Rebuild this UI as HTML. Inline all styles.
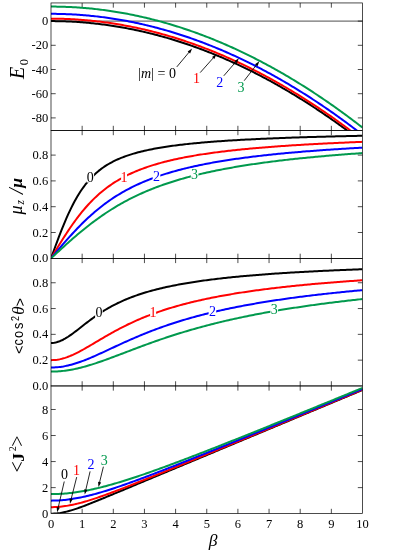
<!DOCTYPE html>
<html><head><meta charset="utf-8"><title>chart</title>
<style>html,body{margin:0;padding:0;background:#fff;}svg{display:block;will-change:transform;opacity:0.999;}
text{font-family:"Liberation Serif",serif;}</style></head>
<body>
<svg width="393" height="554" viewBox="0 0 393 554">
<rect x="0" y="0" width="393" height="554" fill="#ffffff"/>
<defs>
<clipPath id="c1"><rect x="51.00" y="2.95" width="311.50" height="127.55"/></clipPath>
<clipPath id="c2"><rect x="51.00" y="130.50" width="311.50" height="127.90"/></clipPath>
<clipPath id="c3"><rect x="51.00" y="258.40" width="311.50" height="127.55"/></clipPath>
<clipPath id="c4"><rect x="51.00" y="385.95" width="311.50" height="127.55"/></clipPath>
</defs>
<g stroke="#000" stroke-width="0.70" fill="none">
<line x1="51.00" y1="21.10" x2="362.50" y2="21.10"/>
</g>
<g stroke="#000" stroke-width="0.70" fill="none">
<line x1="82.15" y1="2.95" x2="82.15" y2="7.65"/>
<line x1="82.15" y1="125.80" x2="82.15" y2="135.20"/>
<line x1="82.15" y1="253.70" x2="82.15" y2="263.10"/>
<line x1="82.15" y1="381.25" x2="82.15" y2="390.65"/>
<line x1="82.15" y1="508.80" x2="82.15" y2="513.50"/>
<line x1="113.30" y1="2.95" x2="113.30" y2="7.65"/>
<line x1="113.30" y1="125.80" x2="113.30" y2="135.20"/>
<line x1="113.30" y1="253.70" x2="113.30" y2="263.10"/>
<line x1="113.30" y1="381.25" x2="113.30" y2="390.65"/>
<line x1="113.30" y1="508.80" x2="113.30" y2="513.50"/>
<line x1="144.45" y1="2.95" x2="144.45" y2="7.65"/>
<line x1="144.45" y1="125.80" x2="144.45" y2="135.20"/>
<line x1="144.45" y1="253.70" x2="144.45" y2="263.10"/>
<line x1="144.45" y1="381.25" x2="144.45" y2="390.65"/>
<line x1="144.45" y1="508.80" x2="144.45" y2="513.50"/>
<line x1="175.60" y1="2.95" x2="175.60" y2="7.65"/>
<line x1="175.60" y1="125.80" x2="175.60" y2="135.20"/>
<line x1="175.60" y1="253.70" x2="175.60" y2="263.10"/>
<line x1="175.60" y1="381.25" x2="175.60" y2="390.65"/>
<line x1="175.60" y1="508.80" x2="175.60" y2="513.50"/>
<line x1="206.75" y1="2.95" x2="206.75" y2="7.65"/>
<line x1="206.75" y1="125.80" x2="206.75" y2="135.20"/>
<line x1="206.75" y1="253.70" x2="206.75" y2="263.10"/>
<line x1="206.75" y1="381.25" x2="206.75" y2="390.65"/>
<line x1="206.75" y1="508.80" x2="206.75" y2="513.50"/>
<line x1="237.90" y1="2.95" x2="237.90" y2="7.65"/>
<line x1="237.90" y1="125.80" x2="237.90" y2="135.20"/>
<line x1="237.90" y1="253.70" x2="237.90" y2="263.10"/>
<line x1="237.90" y1="381.25" x2="237.90" y2="390.65"/>
<line x1="237.90" y1="508.80" x2="237.90" y2="513.50"/>
<line x1="269.05" y1="2.95" x2="269.05" y2="7.65"/>
<line x1="269.05" y1="125.80" x2="269.05" y2="135.20"/>
<line x1="269.05" y1="253.70" x2="269.05" y2="263.10"/>
<line x1="269.05" y1="381.25" x2="269.05" y2="390.65"/>
<line x1="269.05" y1="508.80" x2="269.05" y2="513.50"/>
<line x1="300.20" y1="2.95" x2="300.20" y2="7.65"/>
<line x1="300.20" y1="125.80" x2="300.20" y2="135.20"/>
<line x1="300.20" y1="253.70" x2="300.20" y2="263.10"/>
<line x1="300.20" y1="381.25" x2="300.20" y2="390.65"/>
<line x1="300.20" y1="508.80" x2="300.20" y2="513.50"/>
<line x1="331.35" y1="2.95" x2="331.35" y2="7.65"/>
<line x1="331.35" y1="125.80" x2="331.35" y2="135.20"/>
<line x1="331.35" y1="253.70" x2="331.35" y2="263.10"/>
<line x1="331.35" y1="381.25" x2="331.35" y2="390.65"/>
<line x1="331.35" y1="508.80" x2="331.35" y2="513.50"/>
<line x1="51.00" y1="21.10" x2="55.70" y2="21.10"/>
<line x1="357.80" y1="21.10" x2="362.50" y2="21.10"/>
<line x1="51.00" y1="45.30" x2="55.70" y2="45.30"/>
<line x1="357.80" y1="45.30" x2="362.50" y2="45.30"/>
<line x1="51.00" y1="69.50" x2="55.70" y2="69.50"/>
<line x1="357.80" y1="69.50" x2="362.50" y2="69.50"/>
<line x1="51.00" y1="93.70" x2="55.70" y2="93.70"/>
<line x1="357.80" y1="93.70" x2="362.50" y2="93.70"/>
<line x1="51.00" y1="117.90" x2="55.70" y2="117.90"/>
<line x1="357.80" y1="117.90" x2="362.50" y2="117.90"/>
<line x1="51.00" y1="232.50" x2="55.70" y2="232.50"/>
<line x1="357.80" y1="232.50" x2="362.50" y2="232.50"/>
<line x1="51.00" y1="206.70" x2="55.70" y2="206.70"/>
<line x1="357.80" y1="206.70" x2="362.50" y2="206.70"/>
<line x1="51.00" y1="180.90" x2="55.70" y2="180.90"/>
<line x1="357.80" y1="180.90" x2="362.50" y2="180.90"/>
<line x1="51.00" y1="155.10" x2="55.70" y2="155.10"/>
<line x1="357.80" y1="155.10" x2="362.50" y2="155.10"/>
<line x1="51.00" y1="360.15" x2="55.70" y2="360.15"/>
<line x1="357.80" y1="360.15" x2="362.50" y2="360.15"/>
<line x1="51.00" y1="334.35" x2="55.70" y2="334.35"/>
<line x1="357.80" y1="334.35" x2="362.50" y2="334.35"/>
<line x1="51.00" y1="308.55" x2="55.70" y2="308.55"/>
<line x1="357.80" y1="308.55" x2="362.50" y2="308.55"/>
<line x1="51.00" y1="282.75" x2="55.70" y2="282.75"/>
<line x1="357.80" y1="282.75" x2="362.50" y2="282.75"/>
<line x1="51.00" y1="487.61" x2="55.70" y2="487.61"/>
<line x1="357.80" y1="487.61" x2="362.50" y2="487.61"/>
<line x1="51.00" y1="461.57" x2="55.70" y2="461.57"/>
<line x1="357.80" y1="461.57" x2="362.50" y2="461.57"/>
<line x1="51.00" y1="435.53" x2="55.70" y2="435.53"/>
<line x1="357.80" y1="435.53" x2="362.50" y2="435.53"/>
<line x1="51.00" y1="409.49" x2="55.70" y2="409.49"/>
<line x1="357.80" y1="409.49" x2="362.50" y2="409.49"/>
</g>
<g clip-path="url(#c1)" fill="none" stroke-width="2" stroke-linejoin="round">
<path d="M51.00,21.10 L52.56,21.10 L54.12,21.11 L55.67,21.13 L57.23,21.15 L58.79,21.18 L60.34,21.21 L61.90,21.25 L63.46,21.29 L65.02,21.35 L66.58,21.40 L68.13,21.47 L69.69,21.54 L71.25,21.61 L72.81,21.69 L74.36,21.78 L75.92,21.87 L77.48,21.97 L79.03,22.08 L80.59,22.19 L82.15,22.31 L83.71,22.43 L85.27,22.56 L86.82,22.70 L88.38,22.84 L89.94,22.99 L91.50,23.14 L93.05,23.31 L94.61,23.47 L96.17,23.64 L97.72,23.82 L99.28,24.01 L100.84,24.20 L102.40,24.39 L103.96,24.60 L105.51,24.81 L107.07,25.02 L108.63,25.24 L110.19,25.47 L111.74,25.70 L113.30,25.94 L114.86,26.19 L116.42,26.44 L117.97,26.69 L119.53,26.96 L121.09,27.23 L122.65,27.50 L124.20,27.78 L125.76,28.07 L127.32,28.36 L128.88,28.66 L130.43,28.97 L131.99,29.28 L133.55,29.60 L135.11,29.92 L136.66,30.25 L138.22,30.59 L139.78,30.93 L141.34,31.28 L142.89,31.63 L144.45,31.99 L146.01,32.36 L147.56,32.73 L149.12,33.11 L150.68,33.49 L152.24,33.88 L153.80,34.28 L155.35,34.68 L156.91,35.09 L158.47,35.50 L160.02,35.92 L161.58,36.35 L163.14,36.78 L164.70,37.22 L166.25,37.66 L167.81,38.12 L169.37,38.57 L170.93,39.04 L172.49,39.50 L174.04,39.98 L175.60,40.46 L177.16,40.95 L178.72,41.44 L180.27,41.94 L181.83,42.44 L183.39,42.96 L184.94,43.47 L186.50,44.00 L188.06,44.53 L189.62,45.06 L191.17,45.60 L192.73,46.15 L194.29,46.70 L195.85,47.26 L197.41,47.83 L198.96,48.40 L200.52,48.98 L202.08,49.56 L203.63,50.15 L205.19,50.75 L206.75,51.35 L208.31,51.96 L209.87,52.57 L211.42,53.19 L212.98,53.82 L214.54,54.45 L216.10,55.09 L217.65,55.73 L219.21,56.38 L220.77,57.04 L222.32,57.70 L223.88,58.37 L225.44,59.05 L227.00,59.73 L228.56,60.41 L230.11,61.11 L231.67,61.80 L233.23,62.51 L234.78,63.22 L236.34,63.94 L237.90,64.66 L239.46,65.39 L241.02,66.12 L242.57,66.87 L244.13,67.61 L245.69,68.37 L247.25,69.12 L248.80,69.89 L250.36,70.66 L251.92,71.44 L253.47,72.22 L255.03,73.01 L256.59,73.81 L258.15,74.61 L259.70,75.42 L261.26,76.23 L262.82,77.05 L264.38,77.88 L265.94,78.71 L267.49,79.55 L269.05,80.39 L270.61,81.24 L272.17,82.10 L273.72,82.96 L275.28,83.83 L276.84,84.70 L278.39,85.58 L279.95,86.47 L281.51,87.36 L283.07,88.26 L284.62,89.16 L286.18,90.07 L287.74,90.99 L289.30,91.91 L290.86,92.84 L292.41,93.78 L293.97,94.72 L295.53,95.66 L297.09,96.62 L298.64,97.58 L300.20,98.54 L301.76,99.51 L303.31,100.49 L304.87,101.47 L306.43,102.46 L307.99,103.46 L309.55,104.46 L311.10,105.46 L312.66,106.48 L314.22,107.50 L315.77,108.52 L317.33,109.55 L318.89,110.59 L320.45,111.64 L322.00,112.68 L323.56,113.74 L325.12,114.80 L326.68,115.87 L328.24,116.94 L329.79,118.02 L331.35,119.11 L332.91,120.20 L334.46,121.30 L336.02,122.40 L337.58,123.51 L339.14,124.63 L340.69,125.75 L342.25,126.88 L343.81,128.02 L345.37,129.16 L346.93,130.30 L348.48,131.46 L350.04,132.61 L351.60,133.78 L353.16,134.95 L354.71,136.13 L356.27,137.31 L357.83,138.50 L359.38,139.69 L360.94,140.89 L362.50,142.10" stroke="#000000"/>
<path d="M51.00,18.68 L52.56,18.68 L54.12,18.69 L55.67,18.71 L57.23,18.73 L58.79,18.76 L60.34,18.79 L61.90,18.83 L63.46,18.87 L65.02,18.93 L66.58,18.98 L68.13,19.05 L69.69,19.12 L71.25,19.19 L72.81,19.27 L74.36,19.36 L75.92,19.45 L77.48,19.55 L79.03,19.66 L80.59,19.77 L82.15,19.89 L83.71,20.01 L85.27,20.14 L86.82,20.28 L88.38,20.42 L89.94,20.57 L91.50,20.72 L93.05,20.89 L94.61,21.05 L96.17,21.22 L97.72,21.40 L99.28,21.59 L100.84,21.78 L102.40,21.97 L103.96,22.18 L105.51,22.39 L107.07,22.60 L108.63,22.82 L110.19,23.05 L111.74,23.28 L113.30,23.52 L114.86,23.77 L116.42,24.02 L117.97,24.27 L119.53,24.54 L121.09,24.81 L122.65,25.08 L124.20,25.36 L125.76,25.65 L127.32,25.94 L128.88,26.24 L130.43,26.55 L131.99,26.86 L133.55,27.18 L135.11,27.50 L136.66,27.83 L138.22,28.17 L139.78,28.51 L141.34,28.86 L142.89,29.21 L144.45,29.57 L146.01,29.94 L147.56,30.31 L149.12,30.69 L150.68,31.07 L152.24,31.46 L153.80,31.86 L155.35,32.26 L156.91,32.67 L158.47,33.08 L160.02,33.50 L161.58,33.93 L163.14,34.36 L164.70,34.80 L166.25,35.24 L167.81,35.70 L169.37,36.15 L170.93,36.62 L172.49,37.08 L174.04,37.56 L175.60,38.04 L177.16,38.53 L178.72,39.02 L180.27,39.52 L181.83,40.02 L183.39,40.54 L184.94,41.05 L186.50,41.58 L188.06,42.11 L189.62,42.64 L191.17,43.18 L192.73,43.73 L194.29,44.28 L195.85,44.84 L197.41,45.41 L198.96,45.98 L200.52,46.56 L202.08,47.14 L203.63,47.73 L205.19,48.33 L206.75,48.93 L208.31,49.54 L209.87,50.15 L211.42,50.77 L212.98,51.40 L214.54,52.03 L216.10,52.67 L217.65,53.31 L219.21,53.96 L220.77,54.62 L222.32,55.28 L223.88,55.95 L225.44,56.63 L227.00,57.31 L228.56,57.99 L230.11,58.69 L231.67,59.38 L233.23,60.09 L234.78,60.80 L236.34,61.52 L237.90,62.24 L239.46,62.97 L241.02,63.70 L242.57,64.45 L244.13,65.19 L245.69,65.95 L247.25,66.70 L248.80,67.47 L250.36,68.24 L251.92,69.02 L253.47,69.80 L255.03,70.59 L256.59,71.39 L258.15,72.19 L259.70,73.00 L261.26,73.81 L262.82,74.63 L264.38,75.46 L265.94,76.29 L267.49,77.13 L269.05,77.97 L270.61,78.82 L272.17,79.68 L273.72,80.54 L275.28,81.41 L276.84,82.28 L278.39,83.16 L279.95,84.05 L281.51,84.94 L283.07,85.84 L284.62,86.74 L286.18,87.65 L287.74,88.57 L289.30,89.49 L290.86,90.42 L292.41,91.36 L293.97,92.30 L295.53,93.24 L297.09,94.20 L298.64,95.16 L300.20,96.12 L301.76,97.09 L303.31,98.07 L304.87,99.05 L306.43,100.04 L307.99,101.04 L309.55,102.04 L311.10,103.04 L312.66,104.06 L314.22,105.08 L315.77,106.10 L317.33,107.13 L318.89,108.17 L320.45,109.22 L322.00,110.26 L323.56,111.32 L325.12,112.38 L326.68,113.45 L328.24,114.52 L329.79,115.60 L331.35,116.69 L332.91,117.78 L334.46,118.88 L336.02,119.98 L337.58,121.09 L339.14,122.21 L340.69,123.33 L342.25,124.46 L343.81,125.60 L345.37,126.74 L346.93,127.88 L348.48,129.04 L350.04,130.19 L351.60,131.36 L353.16,132.53 L354.71,133.71 L356.27,134.89 L357.83,136.08 L359.38,137.27 L360.94,138.47 L362.50,139.68" stroke="#ff0000"/>
<path d="M51.00,13.84 L52.56,13.84 L54.12,13.85 L55.67,13.87 L57.23,13.89 L58.79,13.92 L60.34,13.95 L61.90,13.99 L63.46,14.03 L65.02,14.09 L66.58,14.14 L68.13,14.21 L69.69,14.28 L71.25,14.35 L72.81,14.43 L74.36,14.52 L75.92,14.61 L77.48,14.71 L79.03,14.82 L80.59,14.93 L82.15,15.05 L83.71,15.17 L85.27,15.30 L86.82,15.44 L88.38,15.58 L89.94,15.73 L91.50,15.88 L93.05,16.05 L94.61,16.21 L96.17,16.38 L97.72,16.56 L99.28,16.75 L100.84,16.94 L102.40,17.13 L103.96,17.34 L105.51,17.55 L107.07,17.76 L108.63,17.98 L110.19,18.21 L111.74,18.44 L113.30,18.68 L114.86,18.93 L116.42,19.18 L117.97,19.43 L119.53,19.70 L121.09,19.97 L122.65,20.24 L124.20,20.52 L125.76,20.81 L127.32,21.10 L128.88,21.40 L130.43,21.71 L131.99,22.02 L133.55,22.34 L135.11,22.66 L136.66,22.99 L138.22,23.33 L139.78,23.67 L141.34,24.02 L142.89,24.37 L144.45,24.73 L146.01,25.10 L147.56,25.47 L149.12,25.85 L150.68,26.23 L152.24,26.62 L153.80,27.02 L155.35,27.42 L156.91,27.83 L158.47,28.24 L160.02,28.66 L161.58,29.09 L163.14,29.52 L164.70,29.96 L166.25,30.40 L167.81,30.86 L169.37,31.31 L170.93,31.78 L172.49,32.24 L174.04,32.72 L175.60,33.20 L177.16,33.69 L178.72,34.18 L180.27,34.68 L181.83,35.18 L183.39,35.70 L184.94,36.21 L186.50,36.74 L188.06,37.27 L189.62,37.80 L191.17,38.34 L192.73,38.89 L194.29,39.44 L195.85,40.00 L197.41,40.57 L198.96,41.14 L200.52,41.72 L202.08,42.30 L203.63,42.89 L205.19,43.49 L206.75,44.09 L208.31,44.70 L209.87,45.31 L211.42,45.93 L212.98,46.56 L214.54,47.19 L216.10,47.83 L217.65,48.47 L219.21,49.12 L220.77,49.78 L222.32,50.44 L223.88,51.11 L225.44,51.79 L227.00,52.47 L228.56,53.15 L230.11,53.85 L231.67,54.54 L233.23,55.25 L234.78,55.96 L236.34,56.68 L237.90,57.40 L239.46,58.13 L241.02,58.86 L242.57,59.61 L244.13,60.35 L245.69,61.11 L247.25,61.86 L248.80,62.63 L250.36,63.40 L251.92,64.18 L253.47,64.96 L255.03,65.75 L256.59,66.55 L258.15,67.35 L259.70,68.16 L261.26,68.97 L262.82,69.79 L264.38,70.62 L265.94,71.45 L267.49,72.29 L269.05,73.13 L270.61,73.98 L272.17,74.84 L273.72,75.70 L275.28,76.57 L276.84,77.44 L278.39,78.32 L279.95,79.21 L281.51,80.10 L283.07,81.00 L284.62,81.90 L286.18,82.81 L287.74,83.73 L289.30,84.65 L290.86,85.58 L292.41,86.52 L293.97,87.46 L295.53,88.40 L297.09,89.36 L298.64,90.32 L300.20,91.28 L301.76,92.25 L303.31,93.23 L304.87,94.21 L306.43,95.20 L307.99,96.20 L309.55,97.20 L311.10,98.20 L312.66,99.22 L314.22,100.24 L315.77,101.26 L317.33,102.29 L318.89,103.33 L320.45,104.38 L322.00,105.42 L323.56,106.48 L325.12,107.54 L326.68,108.61 L328.24,109.68 L329.79,110.76 L331.35,111.85 L332.91,112.94 L334.46,114.04 L336.02,115.14 L337.58,116.25 L339.14,117.37 L340.69,118.49 L342.25,119.62 L343.81,120.76 L345.37,121.90 L346.93,123.04 L348.48,124.20 L350.04,125.35 L351.60,126.52 L353.16,127.69 L354.71,128.87 L356.27,130.05 L357.83,131.24 L359.38,132.43 L360.94,133.63 L362.50,134.84" stroke="#0000ff"/>
<path d="M51.00,6.58 L52.56,6.58 L54.12,6.59 L55.67,6.61 L57.23,6.63 L58.79,6.66 L60.34,6.69 L61.90,6.73 L63.46,6.77 L65.02,6.83 L66.58,6.88 L68.13,6.95 L69.69,7.02 L71.25,7.09 L72.81,7.17 L74.36,7.26 L75.92,7.35 L77.48,7.45 L79.03,7.56 L80.59,7.67 L82.15,7.79 L83.71,7.91 L85.27,8.04 L86.82,8.18 L88.38,8.32 L89.94,8.47 L91.50,8.62 L93.05,8.79 L94.61,8.95 L96.17,9.12 L97.72,9.30 L99.28,9.49 L100.84,9.68 L102.40,9.87 L103.96,10.08 L105.51,10.29 L107.07,10.50 L108.63,10.72 L110.19,10.95 L111.74,11.18 L113.30,11.42 L114.86,11.67 L116.42,11.92 L117.97,12.17 L119.53,12.44 L121.09,12.71 L122.65,12.98 L124.20,13.26 L125.76,13.55 L127.32,13.84 L128.88,14.14 L130.43,14.45 L131.99,14.76 L133.55,15.08 L135.11,15.40 L136.66,15.73 L138.22,16.07 L139.78,16.41 L141.34,16.76 L142.89,17.11 L144.45,17.47 L146.01,17.84 L147.56,18.21 L149.12,18.59 L150.68,18.97 L152.24,19.36 L153.80,19.76 L155.35,20.16 L156.91,20.57 L158.47,20.98 L160.02,21.40 L161.58,21.83 L163.14,22.26 L164.70,22.70 L166.25,23.14 L167.81,23.60 L169.37,24.05 L170.93,24.52 L172.49,24.98 L174.04,25.46 L175.60,25.94 L177.16,26.43 L178.72,26.92 L180.27,27.42 L181.83,27.92 L183.39,28.44 L184.94,28.95 L186.50,29.48 L188.06,30.01 L189.62,30.54 L191.17,31.08 L192.73,31.63 L194.29,32.18 L195.85,32.74 L197.41,33.31 L198.96,33.88 L200.52,34.46 L202.08,35.04 L203.63,35.63 L205.19,36.23 L206.75,36.83 L208.31,37.44 L209.87,38.05 L211.42,38.67 L212.98,39.30 L214.54,39.93 L216.10,40.57 L217.65,41.21 L219.21,41.86 L220.77,42.52 L222.32,43.18 L223.88,43.85 L225.44,44.53 L227.00,45.21 L228.56,45.89 L230.11,46.59 L231.67,47.28 L233.23,47.99 L234.78,48.70 L236.34,49.42 L237.90,50.14 L239.46,50.87 L241.02,51.60 L242.57,52.35 L244.13,53.09 L245.69,53.85 L247.25,54.60 L248.80,55.37 L250.36,56.14 L251.92,56.92 L253.47,57.70 L255.03,58.49 L256.59,59.29 L258.15,60.09 L259.70,60.90 L261.26,61.71 L262.82,62.53 L264.38,63.36 L265.94,64.19 L267.49,65.03 L269.05,65.87 L270.61,66.72 L272.17,67.58 L273.72,68.44 L275.28,69.31 L276.84,70.18 L278.39,71.06 L279.95,71.95 L281.51,72.84 L283.07,73.74 L284.62,74.64 L286.18,75.55 L287.74,76.47 L289.30,77.39 L290.86,78.32 L292.41,79.26 L293.97,80.20 L295.53,81.14 L297.09,82.10 L298.64,83.06 L300.20,84.02 L301.76,84.99 L303.31,85.97 L304.87,86.95 L306.43,87.94 L307.99,88.94 L309.55,89.94 L311.10,90.94 L312.66,91.96 L314.22,92.98 L315.77,94.00 L317.33,95.03 L318.89,96.07 L320.45,97.12 L322.00,98.16 L323.56,99.22 L325.12,100.28 L326.68,101.35 L328.24,102.42 L329.79,103.50 L331.35,104.59 L332.91,105.68 L334.46,106.78 L336.02,107.88 L337.58,108.99 L339.14,110.11 L340.69,111.23 L342.25,112.36 L343.81,113.50 L345.37,114.64 L346.93,115.78 L348.48,116.94 L350.04,118.09 L351.60,119.26 L353.16,120.43 L354.71,121.61 L356.27,122.79 L357.83,123.98 L359.38,125.17 L360.94,126.37 L362.50,127.58" stroke="#00994d"/>
</g>
<g clip-path="url(#c2)" fill="none" stroke-width="2" stroke-linejoin="round">
<path d="M51.00,258.30 L52.56,254.00 L54.12,249.72 L55.67,245.48 L57.23,241.28 L58.79,237.15 L60.34,233.10 L61.90,229.14 L63.46,225.28 L65.02,221.54 L66.58,217.92 L68.13,214.42 L69.69,211.06 L71.25,207.83 L72.81,204.74 L74.36,201.78 L75.92,198.96 L77.48,196.27 L79.03,193.72 L80.59,191.29 L82.15,188.99 L83.71,186.80 L85.27,184.73 L86.82,182.77 L88.38,180.91 L89.94,179.15 L91.50,177.48 L93.05,175.91 L94.61,174.41 L96.17,173.00 L97.72,171.66 L99.28,170.39 L100.84,169.18 L102.40,168.04 L103.96,166.95 L105.51,165.92 L107.07,164.94 L108.63,164.01 L110.19,163.12 L111.74,162.27 L113.30,161.46 L114.86,160.69 L116.42,159.96 L117.97,159.25 L119.53,158.58 L121.09,157.93 L122.65,157.32 L124.20,156.73 L125.76,156.16 L127.32,155.61 L128.88,155.09 L130.43,154.58 L131.99,154.10 L133.55,153.63 L135.11,153.18 L136.66,152.75 L138.22,152.33 L139.78,151.93 L141.34,151.54 L142.89,151.16 L144.45,150.80 L146.01,150.45 L147.56,150.11 L149.12,149.78 L150.68,149.46 L152.24,149.15 L153.80,148.84 L155.35,148.55 L156.91,148.27 L158.47,148.00 L160.02,147.73 L161.58,147.47 L163.14,147.22 L164.70,146.97 L166.25,146.73 L167.81,146.50 L169.37,146.27 L170.93,146.05 L172.49,145.84 L174.04,145.63 L175.60,145.42 L177.16,145.23 L178.72,145.03 L180.27,144.84 L181.83,144.66 L183.39,144.48 L184.94,144.30 L186.50,144.13 L188.06,143.96 L189.62,143.79 L191.17,143.63 L192.73,143.48 L194.29,143.32 L195.85,143.17 L197.41,143.02 L198.96,142.88 L200.52,142.74 L202.08,142.60 L203.63,142.46 L205.19,142.33 L206.75,142.20 L208.31,142.07 L209.87,141.95 L211.42,141.82 L212.98,141.70 L214.54,141.59 L216.10,141.47 L217.65,141.36 L219.21,141.24 L220.77,141.13 L222.32,141.03 L223.88,140.92 L225.44,140.82 L227.00,140.72 L228.56,140.62 L230.11,140.52 L231.67,140.42 L233.23,140.33 L234.78,140.23 L236.34,140.14 L237.90,140.05 L239.46,139.96 L241.02,139.87 L242.57,139.79 L244.13,139.70 L245.69,139.62 L247.25,139.54 L248.80,139.46 L250.36,139.38 L251.92,139.30 L253.47,139.22 L255.03,139.15 L256.59,139.07 L258.15,139.00 L259.70,138.93 L261.26,138.86 L262.82,138.79 L264.38,138.72 L265.94,138.65 L267.49,138.58 L269.05,138.51 L270.61,138.45 L272.17,138.38 L273.72,138.32 L275.28,138.26 L276.84,138.20 L278.39,138.14 L279.95,138.08 L281.51,138.02 L283.07,137.96 L284.62,137.90 L286.18,137.84 L287.74,137.79 L289.30,137.73 L290.86,137.68 L292.41,137.62 L293.97,137.57 L295.53,137.52 L297.09,137.46 L298.64,137.41 L300.20,137.36 L301.76,137.31 L303.31,137.26 L304.87,137.21 L306.43,137.17 L307.99,137.12 L309.55,137.07 L311.10,137.02 L312.66,136.98 L314.22,136.93 L315.77,136.89 L317.33,136.84 L318.89,136.80 L320.45,136.76 L322.00,136.71 L323.56,136.67 L325.12,136.63 L326.68,136.59 L328.24,136.55 L329.79,136.51 L331.35,136.47 L332.91,136.43 L334.46,136.39 L336.02,136.35 L337.58,136.31 L339.14,136.27 L340.69,136.24 L342.25,136.20 L343.81,136.16 L345.37,136.13 L346.93,136.09 L348.48,136.05 L350.04,136.02 L351.60,135.98 L353.16,135.95 L354.71,135.92 L356.27,135.88 L357.83,135.85 L359.38,135.82 L360.94,135.78 L362.50,135.75" stroke="#000000"/>
<path d="M51.00,258.30 L52.56,255.72 L54.12,253.15 L55.67,250.58 L57.23,248.03 L58.79,245.49 L60.34,242.98 L61.90,240.49 L63.46,238.03 L65.02,235.60 L66.58,233.21 L68.13,230.85 L69.69,228.54 L71.25,226.27 L72.81,224.04 L74.36,221.86 L75.92,219.73 L77.48,217.65 L79.03,215.62 L80.59,213.64 L82.15,211.72 L83.71,209.84 L85.27,208.02 L86.82,206.25 L88.38,204.52 L89.94,202.85 L91.50,201.23 L93.05,199.66 L94.61,198.14 L96.17,196.66 L97.72,195.23 L99.28,193.85 L100.84,192.51 L102.40,191.21 L103.96,189.95 L105.51,188.73 L107.07,187.55 L108.63,186.41 L110.19,185.31 L111.74,184.24 L113.30,183.20 L114.86,182.20 L116.42,181.23 L117.97,180.29 L119.53,179.38 L121.09,178.50 L122.65,177.64 L124.20,176.81 L125.76,176.01 L127.32,175.23 L128.88,174.47 L130.43,173.73 L131.99,173.02 L133.55,172.33 L135.11,171.66 L136.66,171.00 L138.22,170.37 L139.78,169.75 L141.34,169.15 L142.89,168.57 L144.45,168.00 L146.01,167.45 L147.56,166.91 L149.12,166.39 L150.68,165.88 L152.24,165.38 L153.80,164.90 L155.35,164.43 L156.91,163.97 L158.47,163.52 L160.02,163.09 L161.58,162.66 L163.14,162.24 L164.70,161.84 L166.25,161.44 L167.81,161.05 L169.37,160.68 L170.93,160.31 L172.49,159.94 L174.04,159.59 L175.60,159.25 L177.16,158.91 L178.72,158.58 L180.27,158.26 L181.83,157.94 L183.39,157.63 L184.94,157.33 L186.50,157.03 L188.06,156.74 L189.62,156.45 L191.17,156.18 L192.73,155.90 L194.29,155.63 L195.85,155.37 L197.41,155.11 L198.96,154.86 L200.52,154.61 L202.08,154.37 L203.63,154.13 L205.19,153.90 L206.75,153.67 L208.31,153.44 L209.87,153.22 L211.42,153.00 L212.98,152.79 L214.54,152.58 L216.10,152.37 L217.65,152.17 L219.21,151.97 L220.77,151.77 L222.32,151.58 L223.88,151.39 L225.44,151.21 L227.00,151.02 L228.56,150.84 L230.11,150.67 L231.67,150.49 L233.23,150.32 L234.78,150.15 L236.34,149.99 L237.90,149.82 L239.46,149.66 L241.02,149.50 L242.57,149.35 L244.13,149.19 L245.69,149.04 L247.25,148.89 L248.80,148.75 L250.36,148.60 L251.92,148.46 L253.47,148.32 L255.03,148.18 L256.59,148.04 L258.15,147.91 L259.70,147.78 L261.26,147.65 L262.82,147.52 L264.38,147.39 L265.94,147.27 L267.49,147.14 L269.05,147.02 L270.61,146.90 L272.17,146.78 L273.72,146.66 L275.28,146.55 L276.84,146.43 L278.39,146.32 L279.95,146.21 L281.51,146.10 L283.07,145.99 L284.62,145.89 L286.18,145.78 L287.74,145.68 L289.30,145.57 L290.86,145.47 L292.41,145.37 L293.97,145.27 L295.53,145.17 L297.09,145.08 L298.64,144.98 L300.20,144.89 L301.76,144.79 L303.31,144.70 L304.87,144.61 L306.43,144.52 L307.99,144.43 L309.55,144.34 L311.10,144.26 L312.66,144.17 L314.22,144.09 L315.77,144.00 L317.33,143.92 L318.89,143.84 L320.45,143.76 L322.00,143.68 L323.56,143.60 L325.12,143.52 L326.68,143.44 L328.24,143.36 L329.79,143.29 L331.35,143.21 L332.91,143.14 L334.46,143.06 L336.02,142.99 L337.58,142.92 L339.14,142.85 L340.69,142.78 L342.25,142.71 L343.81,142.64 L345.37,142.57 L346.93,142.50 L348.48,142.43 L350.04,142.37 L351.60,142.30 L353.16,142.24 L354.71,142.17 L356.27,142.11 L357.83,142.05 L359.38,141.98 L360.94,141.92 L362.50,141.86" stroke="#ff0000"/>
<path d="M51.00,258.30 L52.56,256.46 L54.12,254.62 L55.67,252.78 L57.23,250.95 L58.79,249.12 L60.34,247.31 L61.90,245.50 L63.46,243.70 L65.02,241.92 L66.58,240.16 L68.13,238.41 L69.69,236.67 L71.25,234.96 L72.81,233.26 L74.36,231.59 L75.92,229.94 L77.48,228.31 L79.03,226.70 L80.59,225.12 L82.15,223.56 L83.71,222.03 L85.27,220.53 L86.82,219.05 L88.38,217.60 L89.94,216.17 L91.50,214.77 L93.05,213.40 L94.61,212.05 L96.17,210.73 L97.72,209.44 L99.28,208.18 L100.84,206.94 L102.40,205.73 L103.96,204.54 L105.51,203.38 L107.07,202.25 L108.63,201.14 L110.19,200.05 L111.74,198.99 L113.30,197.95 L114.86,196.94 L116.42,195.95 L117.97,194.98 L119.53,194.04 L121.09,193.11 L122.65,192.21 L124.20,191.32 L125.76,190.46 L127.32,189.62 L128.88,188.80 L130.43,187.99 L131.99,187.20 L133.55,186.43 L135.11,185.68 L136.66,184.95 L138.22,184.23 L139.78,183.53 L141.34,182.84 L142.89,182.17 L144.45,181.51 L146.01,180.87 L147.56,180.24 L149.12,179.62 L150.68,179.02 L152.24,178.43 L153.80,177.86 L155.35,177.29 L156.91,176.74 L158.47,176.20 L160.02,175.67 L161.58,175.15 L163.14,174.64 L164.70,174.14 L166.25,173.66 L167.81,173.18 L169.37,172.71 L170.93,172.25 L172.49,171.80 L174.04,171.36 L175.60,170.92 L177.16,170.50 L178.72,170.08 L180.27,169.68 L181.83,169.27 L183.39,168.88 L184.94,168.49 L186.50,168.12 L188.06,167.74 L189.62,167.38 L191.17,167.02 L192.73,166.67 L194.29,166.32 L195.85,165.98 L197.41,165.65 L198.96,165.32 L200.52,165.00 L202.08,164.68 L203.63,164.37 L205.19,164.06 L206.75,163.76 L208.31,163.46 L209.87,163.17 L211.42,162.88 L212.98,162.60 L214.54,162.32 L216.10,162.05 L217.65,161.78 L219.21,161.52 L220.77,161.26 L222.32,161.00 L223.88,160.75 L225.44,160.50 L227.00,160.26 L228.56,160.02 L230.11,159.78 L231.67,159.55 L233.23,159.32 L234.78,159.09 L236.34,158.86 L237.90,158.64 L239.46,158.43 L241.02,158.21 L242.57,158.00 L244.13,157.79 L245.69,157.59 L247.25,157.39 L248.80,157.19 L250.36,156.99 L251.92,156.80 L253.47,156.61 L255.03,156.42 L256.59,156.23 L258.15,156.05 L259.70,155.87 L261.26,155.69 L262.82,155.51 L264.38,155.34 L265.94,155.17 L267.49,155.00 L269.05,154.83 L270.61,154.66 L272.17,154.50 L273.72,154.34 L275.28,154.18 L276.84,154.02 L278.39,153.87 L279.95,153.72 L281.51,153.56 L283.07,153.41 L284.62,153.27 L286.18,153.12 L287.74,152.98 L289.30,152.83 L290.86,152.69 L292.41,152.55 L293.97,152.42 L295.53,152.28 L297.09,152.15 L298.64,152.01 L300.20,151.88 L301.76,151.75 L303.31,151.62 L304.87,151.50 L306.43,151.37 L307.99,151.25 L309.55,151.13 L311.10,151.00 L312.66,150.88 L314.22,150.77 L315.77,150.65 L317.33,150.53 L318.89,150.42 L320.45,150.30 L322.00,150.19 L323.56,150.08 L325.12,149.97 L326.68,149.86 L328.24,149.75 L329.79,149.65 L331.35,149.54 L332.91,149.44 L334.46,149.33 L336.02,149.23 L337.58,149.13 L339.14,149.03 L340.69,148.93 L342.25,148.83 L343.81,148.73 L345.37,148.64 L346.93,148.54 L348.48,148.45 L350.04,148.35 L351.60,148.26 L353.16,148.17 L354.71,148.08 L356.27,147.99 L357.83,147.90 L359.38,147.81 L360.94,147.72 L362.50,147.63" stroke="#0000ff"/>
<path d="M51.00,258.30 L52.56,256.87 L54.12,255.43 L55.67,254.00 L57.23,252.58 L58.79,251.15 L60.34,249.73 L61.90,248.32 L63.46,246.91 L65.02,245.50 L66.58,244.11 L68.13,242.72 L69.69,241.34 L71.25,239.98 L72.81,238.62 L74.36,237.27 L75.92,235.93 L77.48,234.61 L79.03,233.30 L80.59,232.00 L82.15,230.72 L83.71,229.45 L85.27,228.19 L86.82,226.95 L88.38,225.72 L89.94,224.51 L91.50,223.32 L93.05,222.14 L94.61,220.97 L96.17,219.83 L97.72,218.70 L99.28,217.58 L100.84,216.48 L102.40,215.40 L103.96,214.34 L105.51,213.29 L107.07,212.25 L108.63,211.24 L110.19,210.24 L111.74,209.26 L113.30,208.29 L114.86,207.34 L116.42,206.40 L117.97,205.48 L119.53,204.58 L121.09,203.69 L122.65,202.82 L124.20,201.96 L125.76,201.12 L127.32,200.29 L128.88,199.48 L130.43,198.68 L131.99,197.89 L133.55,197.12 L135.11,196.36 L136.66,195.62 L138.22,194.89 L139.78,194.17 L141.34,193.47 L142.89,192.77 L144.45,192.09 L146.01,191.42 L147.56,190.77 L149.12,190.12 L150.68,189.49 L152.24,188.87 L153.80,188.25 L155.35,187.65 L156.91,187.06 L158.47,186.48 L160.02,185.91 L161.58,185.35 L163.14,184.80 L164.70,184.26 L166.25,183.73 L167.81,183.21 L169.37,182.69 L170.93,182.19 L172.49,181.69 L174.04,181.20 L175.60,180.72 L177.16,180.25 L178.72,179.78 L180.27,179.33 L181.83,178.88 L183.39,178.43 L184.94,178.00 L186.50,177.57 L188.06,177.15 L189.62,176.74 L191.17,176.33 L192.73,175.93 L194.29,175.53 L195.85,175.14 L197.41,174.76 L198.96,174.38 L200.52,174.01 L202.08,173.65 L203.63,173.29 L205.19,172.93 L206.75,172.58 L208.31,172.24 L209.87,171.90 L211.42,171.56 L212.98,171.24 L214.54,170.91 L216.10,170.59 L217.65,170.28 L219.21,169.97 L220.77,169.66 L222.32,169.36 L223.88,169.06 L225.44,168.77 L227.00,168.48 L228.56,168.19 L230.11,167.91 L231.67,167.64 L233.23,167.36 L234.78,167.09 L236.34,166.83 L237.90,166.56 L239.46,166.31 L241.02,166.05 L242.57,165.80 L244.13,165.55 L245.69,165.30 L247.25,165.06 L248.80,164.82 L250.36,164.59 L251.92,164.35 L253.47,164.12 L255.03,163.89 L256.59,163.67 L258.15,163.45 L259.70,163.23 L261.26,163.01 L262.82,162.80 L264.38,162.59 L265.94,162.38 L267.49,162.17 L269.05,161.97 L270.61,161.77 L272.17,161.57 L273.72,161.37 L275.28,161.18 L276.84,160.99 L278.39,160.80 L279.95,160.61 L281.51,160.43 L283.07,160.24 L284.62,160.06 L286.18,159.88 L287.74,159.71 L289.30,159.53 L290.86,159.36 L292.41,159.19 L293.97,159.02 L295.53,158.85 L297.09,158.69 L298.64,158.52 L300.20,158.36 L301.76,158.20 L303.31,158.04 L304.87,157.89 L306.43,157.73 L307.99,157.58 L309.55,157.43 L311.10,157.28 L312.66,157.13 L314.22,156.98 L315.77,156.84 L317.33,156.69 L318.89,156.55 L320.45,156.41 L322.00,156.27 L323.56,156.13 L325.12,155.99 L326.68,155.86 L328.24,155.72 L329.79,155.59 L331.35,155.46 L332.91,155.33 L334.46,155.20 L336.02,155.07 L337.58,154.95 L339.14,154.82 L340.69,154.70 L342.25,154.57 L343.81,154.45 L345.37,154.33 L346.93,154.21 L348.48,154.09 L350.04,153.98 L351.60,153.86 L353.16,153.75 L354.71,153.63 L356.27,153.52 L357.83,153.41 L359.38,153.30 L360.94,153.19 L362.50,153.08" stroke="#00994d"/>
</g>
<g clip-path="url(#c3)" fill="none" stroke-width="2" stroke-linejoin="round">
<path d="M51.00,342.95 L52.56,342.89 L54.12,342.72 L55.67,342.44 L57.23,342.05 L58.79,341.55 L60.34,340.95 L61.90,340.27 L63.46,339.49 L65.02,338.64 L66.58,337.71 L68.13,336.73 L69.69,335.68 L71.25,334.60 L72.81,333.47 L74.36,332.31 L75.92,331.12 L77.48,329.92 L79.03,328.71 L80.59,327.49 L82.15,326.26 L83.71,325.04 L85.27,323.83 L86.82,322.63 L88.38,321.44 L89.94,320.27 L91.50,319.12 L93.05,317.98 L94.61,316.87 L96.17,315.78 L97.72,314.71 L99.28,313.67 L100.84,312.65 L102.40,311.65 L103.96,310.68 L105.51,309.74 L107.07,308.82 L108.63,307.92 L110.19,307.05 L111.74,306.20 L113.30,305.37 L114.86,304.56 L116.42,303.78 L117.97,303.02 L119.53,302.28 L121.09,301.56 L122.65,300.86 L124.20,300.17 L125.76,299.51 L127.32,298.86 L128.88,298.23 L130.43,297.62 L131.99,297.03 L133.55,296.45 L135.11,295.88 L136.66,295.33 L138.22,294.80 L139.78,294.27 L141.34,293.76 L142.89,293.27 L144.45,292.78 L146.01,292.31 L147.56,291.85 L149.12,291.40 L150.68,290.96 L152.24,290.54 L153.80,290.12 L155.35,289.71 L156.91,289.31 L158.47,288.92 L160.02,288.54 L161.58,288.17 L163.14,287.81 L164.70,287.45 L166.25,287.10 L167.81,286.76 L169.37,286.43 L170.93,286.11 L172.49,285.79 L174.04,285.47 L175.60,285.17 L177.16,284.87 L178.72,284.58 L180.27,284.29 L181.83,284.01 L183.39,283.73 L184.94,283.46 L186.50,283.20 L188.06,282.94 L189.62,282.68 L191.17,282.43 L192.73,282.19 L194.29,281.95 L195.85,281.71 L197.41,281.48 L198.96,281.25 L200.52,281.03 L202.08,280.81 L203.63,280.59 L205.19,280.38 L206.75,280.17 L208.31,279.97 L209.87,279.76 L211.42,279.57 L212.98,279.37 L214.54,279.18 L216.10,278.99 L217.65,278.81 L219.21,278.63 L220.77,278.45 L222.32,278.27 L223.88,278.10 L225.44,277.93 L227.00,277.76 L228.56,277.60 L230.11,277.43 L231.67,277.27 L233.23,277.12 L234.78,276.96 L236.34,276.81 L237.90,276.66 L239.46,276.51 L241.02,276.36 L242.57,276.22 L244.13,276.08 L245.69,275.94 L247.25,275.80 L248.80,275.67 L250.36,275.53 L251.92,275.40 L253.47,275.27 L255.03,275.14 L256.59,275.01 L258.15,274.89 L259.70,274.77 L261.26,274.65 L262.82,274.53 L264.38,274.41 L265.94,274.29 L267.49,274.18 L269.05,274.06 L270.61,273.95 L272.17,273.84 L273.72,273.73 L275.28,273.62 L276.84,273.52 L278.39,273.41 L279.95,273.31 L281.51,273.20 L283.07,273.10 L284.62,273.00 L286.18,272.90 L287.74,272.81 L289.30,272.71 L290.86,272.62 L292.41,272.52 L293.97,272.43 L295.53,272.34 L297.09,272.25 L298.64,272.16 L300.20,272.07 L301.76,271.98 L303.31,271.89 L304.87,271.81 L306.43,271.72 L307.99,271.64 L309.55,271.56 L311.10,271.47 L312.66,271.39 L314.22,271.31 L315.77,271.23 L317.33,271.16 L318.89,271.08 L320.45,271.00 L322.00,270.93 L323.56,270.85 L325.12,270.78 L326.68,270.70 L328.24,270.63 L329.79,270.56 L331.35,270.49 L332.91,270.42 L334.46,270.35 L336.02,270.28 L337.58,270.21 L339.14,270.14 L340.69,270.08 L342.25,270.01 L343.81,269.94 L345.37,269.88 L346.93,269.81 L348.48,269.75 L350.04,269.69 L351.60,269.63 L353.16,269.56 L354.71,269.50 L356.27,269.44 L357.83,269.38 L359.38,269.32 L360.94,269.26 L362.50,269.21" stroke="#000000"/>
<path d="M51.00,360.15 L52.56,360.12 L54.12,360.03 L55.67,359.89 L57.23,359.68 L58.79,359.42 L60.34,359.11 L61.90,358.74 L63.46,358.31 L65.02,357.84 L66.58,357.33 L68.13,356.76 L69.69,356.16 L71.25,355.51 L72.81,354.83 L74.36,354.11 L75.92,353.37 L77.48,352.59 L79.03,351.79 L80.59,350.96 L82.15,350.12 L83.71,349.25 L85.27,348.37 L86.82,347.48 L88.38,346.58 L89.94,345.66 L91.50,344.74 L93.05,343.82 L94.61,342.90 L96.17,341.97 L97.72,341.04 L99.28,340.12 L100.84,339.19 L102.40,338.28 L103.96,337.36 L105.51,336.46 L107.07,335.56 L108.63,334.67 L110.19,333.78 L111.74,332.91 L113.30,332.05 L114.86,331.19 L116.42,330.35 L117.97,329.52 L119.53,328.70 L121.09,327.89 L122.65,327.09 L124.20,326.30 L125.76,325.53 L127.32,324.77 L128.88,324.02 L130.43,323.28 L131.99,322.55 L133.55,321.83 L135.11,321.13 L136.66,320.44 L138.22,319.76 L139.78,319.09 L141.34,318.43 L142.89,317.78 L144.45,317.15 L146.01,316.52 L147.56,315.91 L149.12,315.31 L150.68,314.71 L152.24,314.13 L153.80,313.56 L155.35,312.99 L156.91,312.44 L158.47,311.89 L160.02,311.36 L161.58,310.83 L163.14,310.31 L164.70,309.81 L166.25,309.31 L167.81,308.81 L169.37,308.33 L170.93,307.86 L172.49,307.39 L174.04,306.93 L175.60,306.48 L177.16,306.03 L178.72,305.59 L180.27,305.16 L181.83,304.74 L183.39,304.32 L184.94,303.91 L186.50,303.51 L188.06,303.11 L189.62,302.72 L191.17,302.34 L192.73,301.96 L194.29,301.59 L195.85,301.22 L197.41,300.86 L198.96,300.50 L200.52,300.15 L202.08,299.81 L203.63,299.47 L205.19,299.13 L206.75,298.80 L208.31,298.48 L209.87,298.16 L211.42,297.84 L212.98,297.53 L214.54,297.22 L216.10,296.92 L217.65,296.63 L219.21,296.33 L220.77,296.04 L222.32,295.76 L223.88,295.48 L225.44,295.20 L227.00,294.92 L228.56,294.65 L230.11,294.39 L231.67,294.13 L233.23,293.87 L234.78,293.61 L236.34,293.36 L237.90,293.11 L239.46,292.86 L241.02,292.62 L242.57,292.38 L244.13,292.15 L245.69,291.91 L247.25,291.68 L248.80,291.45 L250.36,291.23 L251.92,291.01 L253.47,290.79 L255.03,290.57 L256.59,290.36 L258.15,290.15 L259.70,289.94 L261.26,289.74 L262.82,289.53 L264.38,289.33 L265.94,289.13 L267.49,288.94 L269.05,288.74 L270.61,288.55 L272.17,288.36 L273.72,288.18 L275.28,287.99 L276.84,287.81 L278.39,287.63 L279.95,287.45 L281.51,287.27 L283.07,287.10 L284.62,286.93 L286.18,286.76 L287.74,286.59 L289.30,286.42 L290.86,286.26 L292.41,286.09 L293.97,285.93 L295.53,285.77 L297.09,285.61 L298.64,285.46 L300.20,285.30 L301.76,285.15 L303.31,285.00 L304.87,284.85 L306.43,284.70 L307.99,284.55 L309.55,284.41 L311.10,284.27 L312.66,284.12 L314.22,283.98 L315.77,283.84 L317.33,283.71 L318.89,283.57 L320.45,283.43 L322.00,283.30 L323.56,283.17 L325.12,283.04 L326.68,282.91 L328.24,282.78 L329.79,282.65 L331.35,282.53 L332.91,282.40 L334.46,282.28 L336.02,282.15 L337.58,282.03 L339.14,281.91 L340.69,281.79 L342.25,281.68 L343.81,281.56 L345.37,281.44 L346.93,281.33 L348.48,281.21 L350.04,281.10 L351.60,280.99 L353.16,280.88 L354.71,280.77 L356.27,280.66 L357.83,280.55 L359.38,280.45 L360.94,280.34 L362.50,280.24" stroke="#ff0000"/>
<path d="M51.00,367.52 L52.56,367.50 L54.12,367.45 L55.67,367.36 L57.23,367.24 L58.79,367.09 L60.34,366.90 L61.90,366.67 L63.46,366.42 L65.02,366.13 L66.58,365.81 L68.13,365.46 L69.69,365.08 L71.25,364.68 L72.81,364.25 L74.36,363.79 L75.92,363.31 L77.48,362.80 L79.03,362.27 L80.59,361.72 L82.15,361.16 L83.71,360.57 L85.27,359.96 L86.82,359.35 L88.38,358.71 L89.94,358.06 L91.50,357.40 L93.05,356.73 L94.61,356.05 L96.17,355.36 L97.72,354.66 L99.28,353.96 L100.84,353.25 L102.40,352.54 L103.96,351.82 L105.51,351.10 L107.07,350.37 L108.63,349.65 L110.19,348.92 L111.74,348.19 L113.30,347.47 L114.86,346.74 L116.42,346.02 L117.97,345.30 L119.53,344.58 L121.09,343.87 L122.65,343.16 L124.20,342.45 L125.76,341.75 L127.32,341.05 L128.88,340.36 L130.43,339.67 L131.99,338.99 L133.55,338.31 L135.11,337.64 L136.66,336.97 L138.22,336.31 L139.78,335.66 L141.34,335.01 L142.89,334.37 L144.45,333.74 L146.01,333.11 L147.56,332.49 L149.12,331.88 L150.68,331.27 L152.24,330.67 L153.80,330.08 L155.35,329.50 L156.91,328.92 L158.47,328.34 L160.02,327.78 L161.58,327.22 L163.14,326.67 L164.70,326.12 L166.25,325.58 L167.81,325.05 L169.37,324.52 L170.93,324.00 L172.49,323.49 L174.04,322.98 L175.60,322.48 L177.16,321.99 L178.72,321.50 L180.27,321.02 L181.83,320.54 L183.39,320.07 L184.94,319.60 L186.50,319.15 L188.06,318.69 L189.62,318.25 L191.17,317.80 L192.73,317.37 L194.29,316.94 L195.85,316.51 L197.41,316.09 L198.96,315.68 L200.52,315.27 L202.08,314.86 L203.63,314.46 L205.19,314.06 L206.75,313.67 L208.31,313.29 L209.87,312.91 L211.42,312.53 L212.98,312.16 L214.54,311.79 L216.10,311.43 L217.65,311.07 L219.21,310.72 L220.77,310.37 L222.32,310.02 L223.88,309.68 L225.44,309.34 L227.00,309.01 L228.56,308.68 L230.11,308.35 L231.67,308.03 L233.23,307.71 L234.78,307.40 L236.34,307.09 L237.90,306.78 L239.46,306.47 L241.02,306.17 L242.57,305.88 L244.13,305.58 L245.69,305.29 L247.25,305.00 L248.80,304.72 L250.36,304.44 L251.92,304.16 L253.47,303.89 L255.03,303.61 L256.59,303.34 L258.15,303.08 L259.70,302.82 L261.26,302.55 L262.82,302.30 L264.38,302.04 L265.94,301.79 L267.49,301.54 L269.05,301.29 L270.61,301.05 L272.17,300.81 L273.72,300.57 L275.28,300.33 L276.84,300.10 L278.39,299.87 L279.95,299.64 L281.51,299.41 L283.07,299.19 L284.62,298.96 L286.18,298.74 L287.74,298.52 L289.30,298.31 L290.86,298.10 L292.41,297.88 L293.97,297.67 L295.53,297.47 L297.09,297.26 L298.64,297.06 L300.20,296.86 L301.76,296.66 L303.31,296.46 L304.87,296.26 L306.43,296.07 L307.99,295.88 L309.55,295.69 L311.10,295.50 L312.66,295.31 L314.22,295.13 L315.77,294.94 L317.33,294.76 L318.89,294.58 L320.45,294.41 L322.00,294.23 L323.56,294.05 L325.12,293.88 L326.68,293.71 L328.24,293.54 L329.79,293.37 L331.35,293.20 L332.91,293.04 L334.46,292.87 L336.02,292.71 L337.58,292.55 L339.14,292.39 L340.69,292.23 L342.25,292.07 L343.81,291.92 L345.37,291.76 L346.93,291.61 L348.48,291.46 L350.04,291.31 L351.60,291.16 L353.16,291.01 L354.71,290.86 L356.27,290.72 L357.83,290.58 L359.38,290.43 L360.94,290.29 L362.50,290.15" stroke="#0000ff"/>
<path d="M51.00,371.62 L52.56,371.61 L54.12,371.57 L55.67,371.51 L57.23,371.43 L58.79,371.33 L60.34,371.20 L61.90,371.05 L63.46,370.88 L65.02,370.69 L66.58,370.48 L68.13,370.24 L69.69,369.99 L71.25,369.71 L72.81,369.42 L74.36,369.11 L75.92,368.78 L77.48,368.43 L79.03,368.06 L80.59,367.68 L82.15,367.28 L83.71,366.86 L85.27,366.44 L86.82,365.99 L88.38,365.54 L89.94,365.07 L91.50,364.59 L93.05,364.10 L94.61,363.59 L96.17,363.08 L97.72,362.56 L99.28,362.03 L100.84,361.49 L102.40,360.95 L103.96,360.40 L105.51,359.84 L107.07,359.27 L108.63,358.70 L110.19,358.13 L111.74,357.55 L113.30,356.97 L114.86,356.39 L116.42,355.80 L117.97,355.21 L119.53,354.62 L121.09,354.03 L122.65,353.44 L124.20,352.84 L125.76,352.25 L127.32,351.66 L128.88,351.07 L130.43,350.47 L131.99,349.88 L133.55,349.29 L135.11,348.71 L136.66,348.12 L138.22,347.54 L139.78,346.95 L141.34,346.38 L142.89,345.80 L144.45,345.23 L146.01,344.66 L147.56,344.09 L149.12,343.52 L150.68,342.96 L152.24,342.41 L153.80,341.85 L155.35,341.30 L156.91,340.76 L158.47,340.22 L160.02,339.68 L161.58,339.14 L163.14,338.61 L164.70,338.09 L166.25,337.57 L167.81,337.05 L169.37,336.54 L170.93,336.03 L172.49,335.53 L174.04,335.03 L175.60,334.53 L177.16,334.04 L178.72,333.55 L180.27,333.07 L181.83,332.59 L183.39,332.12 L184.94,331.65 L186.50,331.18 L188.06,330.72 L189.62,330.27 L191.17,329.81 L192.73,329.37 L194.29,328.92 L195.85,328.48 L197.41,328.05 L198.96,327.62 L200.52,327.19 L202.08,326.77 L203.63,326.35 L205.19,325.94 L206.75,325.52 L208.31,325.12 L209.87,324.72 L211.42,324.32 L212.98,323.92 L214.54,323.53 L216.10,323.14 L217.65,322.76 L219.21,322.38 L220.77,322.01 L222.32,321.63 L223.88,321.27 L225.44,320.90 L227.00,320.54 L228.56,320.18 L230.11,319.83 L231.67,319.48 L233.23,319.13 L234.78,318.79 L236.34,318.44 L237.90,318.11 L239.46,317.77 L241.02,317.44 L242.57,317.11 L244.13,316.79 L245.69,316.47 L247.25,316.15 L248.80,315.83 L250.36,315.52 L251.92,315.21 L253.47,314.91 L255.03,314.60 L256.59,314.30 L258.15,314.00 L259.70,313.71 L261.26,313.42 L262.82,313.13 L264.38,312.84 L265.94,312.56 L267.49,312.27 L269.05,312.00 L270.61,311.72 L272.17,311.45 L273.72,311.17 L275.28,310.91 L276.84,310.64 L278.39,310.37 L279.95,310.11 L281.51,309.85 L283.07,309.60 L284.62,309.34 L286.18,309.09 L287.74,308.84 L289.30,308.59 L290.86,308.35 L292.41,308.10 L293.97,307.86 L295.53,307.62 L297.09,307.39 L298.64,307.15 L300.20,306.92 L301.76,306.69 L303.31,306.46 L304.87,306.23 L306.43,306.01 L307.99,305.78 L309.55,305.56 L311.10,305.34 L312.66,305.13 L314.22,304.91 L315.77,304.70 L317.33,304.49 L318.89,304.28 L320.45,304.07 L322.00,303.86 L323.56,303.66 L325.12,303.45 L326.68,303.25 L328.24,303.05 L329.79,302.85 L331.35,302.66 L332.91,302.46 L334.46,302.27 L336.02,302.08 L337.58,301.89 L339.14,301.70 L340.69,301.51 L342.25,301.32 L343.81,301.14 L345.37,300.96 L346.93,300.78 L348.48,300.60 L350.04,300.42 L351.60,300.24 L353.16,300.06 L354.71,299.89 L356.27,299.72 L357.83,299.55 L359.38,299.38 L360.94,299.21 L362.50,299.04" stroke="#00994d"/>
</g>
<g clip-path="url(#c4)" fill="none" stroke-width="2" stroke-linejoin="round">
<path d="M51.00,513.65 L52.56,513.63 L54.12,513.56 L55.67,513.46 L57.23,513.31 L58.79,513.12 L60.34,512.89 L61.90,512.62 L63.46,512.32 L65.02,511.98 L66.58,511.61 L68.13,511.21 L69.69,510.79 L71.25,510.34 L72.81,509.87 L74.36,509.37 L75.92,508.86 L77.48,508.33 L79.03,507.78 L80.59,507.22 L82.15,506.65 L83.71,506.07 L85.27,505.48 L86.82,504.88 L88.38,504.28 L89.94,503.66 L91.50,503.05 L93.05,502.42 L94.61,501.80 L96.17,501.17 L97.72,500.53 L99.28,499.90 L100.84,499.26 L102.40,498.62 L103.96,497.98 L105.51,497.33 L107.07,496.69 L108.63,496.04 L110.19,495.40 L111.74,494.75 L113.30,494.10 L114.86,493.45 L116.42,492.81 L117.97,492.16 L119.53,491.51 L121.09,490.86 L122.65,490.21 L124.20,489.56 L125.76,488.91 L127.32,488.26 L128.88,487.61 L130.43,486.96 L131.99,486.31 L133.55,485.66 L135.11,485.00 L136.66,484.35 L138.22,483.70 L139.78,483.05 L141.34,482.40 L142.89,481.75 L144.45,481.10 L146.01,480.45 L147.56,479.80 L149.12,479.15 L150.68,478.50 L152.24,477.84 L153.80,477.19 L155.35,476.54 L156.91,475.89 L158.47,475.24 L160.02,474.59 L161.58,473.94 L163.14,473.29 L164.70,472.64 L166.25,471.99 L167.81,471.33 L169.37,470.68 L170.93,470.03 L172.49,469.38 L174.04,468.73 L175.60,468.08 L177.16,467.43 L178.72,466.78 L180.27,466.13 L181.83,465.48 L183.39,464.82 L184.94,464.17 L186.50,463.52 L188.06,462.87 L189.62,462.22 L191.17,461.57 L192.73,460.92 L194.29,460.27 L195.85,459.62 L197.41,458.97 L198.96,458.31 L200.52,457.66 L202.08,457.01 L203.63,456.36 L205.19,455.71 L206.75,455.06 L208.31,454.41 L209.87,453.76 L211.42,453.11 L212.98,452.46 L214.54,451.80 L216.10,451.15 L217.65,450.50 L219.21,449.85 L220.77,449.20 L222.32,448.55 L223.88,447.90 L225.44,447.25 L227.00,446.60 L228.56,445.95 L230.11,445.29 L231.67,444.64 L233.23,443.99 L234.78,443.34 L236.34,442.69 L237.90,442.04 L239.46,441.39 L241.02,440.74 L242.57,440.09 L244.13,439.44 L245.69,438.78 L247.25,438.13 L248.80,437.48 L250.36,436.83 L251.92,436.18 L253.47,435.53 L255.03,434.88 L256.59,434.23 L258.15,433.58 L259.70,432.93 L261.26,432.27 L262.82,431.62 L264.38,430.97 L265.94,430.32 L267.49,429.67 L269.05,429.02 L270.61,428.37 L272.17,427.72 L273.72,427.07 L275.28,426.42 L276.84,425.76 L278.39,425.11 L279.95,424.46 L281.51,423.81 L283.07,423.16 L284.62,422.51 L286.18,421.86 L287.74,421.21 L289.30,420.56 L290.86,419.91 L292.41,419.25 L293.97,418.60 L295.53,417.95 L297.09,417.30 L298.64,416.65 L300.20,416.00 L301.76,415.35 L303.31,414.70 L304.87,414.05 L306.43,413.40 L307.99,412.74 L309.55,412.09 L311.10,411.44 L312.66,410.79 L314.22,410.14 L315.77,409.49 L317.33,408.84 L318.89,408.19 L320.45,407.54 L322.00,406.89 L323.56,406.24 L325.12,405.58 L326.68,404.93 L328.24,404.28 L329.79,403.63 L331.35,402.98 L332.91,402.33 L334.46,401.68 L336.02,401.03 L337.58,400.38 L339.14,399.73 L340.69,399.07 L342.25,398.42 L343.81,397.77 L345.37,397.12 L346.93,396.47 L348.48,395.82 L350.04,395.17 L351.60,394.52 L353.16,393.87 L354.71,393.22 L356.27,392.56 L357.83,391.91 L359.38,391.26 L360.94,390.61 L362.50,389.96" stroke="#000000"/>
<path d="M51.00,507.14 L52.56,507.13 L54.12,507.09 L55.67,507.02 L57.23,506.93 L58.79,506.82 L60.34,506.68 L61.90,506.51 L63.46,506.32 L65.02,506.11 L66.58,505.87 L68.13,505.62 L69.69,505.34 L71.25,505.04 L72.81,504.72 L74.36,504.38 L75.92,504.03 L77.48,503.65 L79.03,503.26 L80.59,502.86 L82.15,502.44 L83.71,502.00 L85.27,501.56 L86.82,501.10 L88.38,500.63 L89.94,500.14 L91.50,499.65 L93.05,499.15 L94.61,498.64 L96.17,498.12 L97.72,497.59 L99.28,497.06 L100.84,496.51 L102.40,495.97 L103.96,495.41 L105.51,494.85 L107.07,494.29 L108.63,493.72 L110.19,493.14 L111.74,492.56 L113.30,491.98 L114.86,491.39 L116.42,490.80 L117.97,490.21 L119.53,489.62 L121.09,489.02 L122.65,488.42 L124.20,487.81 L125.76,487.21 L127.32,486.60 L128.88,485.99 L130.43,485.38 L131.99,484.76 L133.55,484.15 L135.11,483.53 L136.66,482.91 L138.22,482.29 L139.78,481.67 L141.34,481.05 L142.89,480.42 L144.45,479.80 L146.01,479.17 L147.56,478.55 L149.12,477.92 L150.68,477.29 L152.24,476.66 L153.80,476.03 L155.35,475.40 L156.91,474.77 L158.47,474.14 L160.02,473.51 L161.58,472.87 L163.14,472.24 L164.70,471.60 L166.25,470.97 L167.81,470.33 L169.37,469.70 L170.93,469.06 L172.49,468.42 L174.04,467.79 L175.60,467.15 L177.16,466.51 L178.72,465.87 L180.27,465.24 L181.83,464.60 L183.39,463.96 L184.94,463.32 L186.50,462.68 L188.06,462.04 L189.62,461.40 L191.17,460.76 L192.73,460.12 L194.29,459.47 L195.85,458.83 L197.41,458.19 L198.96,457.55 L200.52,456.91 L202.08,456.26 L203.63,455.62 L205.19,454.98 L206.75,454.34 L208.31,453.69 L209.87,453.05 L211.42,452.41 L212.98,451.76 L214.54,451.12 L216.10,450.48 L217.65,449.83 L219.21,449.19 L220.77,448.54 L222.32,447.90 L223.88,447.25 L225.44,446.61 L227.00,445.96 L228.56,445.32 L230.11,444.68 L231.67,444.03 L233.23,443.38 L234.78,442.74 L236.34,442.09 L237.90,441.45 L239.46,440.80 L241.02,440.16 L242.57,439.51 L244.13,438.86 L245.69,438.22 L247.25,437.57 L248.80,436.93 L250.36,436.28 L251.92,435.63 L253.47,434.99 L255.03,434.34 L256.59,433.69 L258.15,433.05 L259.70,432.40 L261.26,431.75 L262.82,431.11 L264.38,430.46 L265.94,429.81 L267.49,429.17 L269.05,428.52 L270.61,427.87 L272.17,427.22 L273.72,426.58 L275.28,425.93 L276.84,425.28 L278.39,424.64 L279.95,423.99 L281.51,423.34 L283.07,422.69 L284.62,422.05 L286.18,421.40 L287.74,420.75 L289.30,420.10 L290.86,419.45 L292.41,418.81 L293.97,418.16 L295.53,417.51 L297.09,416.86 L298.64,416.21 L300.20,415.57 L301.76,414.92 L303.31,414.27 L304.87,413.62 L306.43,412.97 L307.99,412.33 L309.55,411.68 L311.10,411.03 L312.66,410.38 L314.22,409.73 L315.77,409.08 L317.33,408.43 L318.89,407.79 L320.45,407.14 L322.00,406.49 L323.56,405.84 L325.12,405.19 L326.68,404.54 L328.24,403.89 L329.79,403.25 L331.35,402.60 L332.91,401.95 L334.46,401.30 L336.02,400.65 L337.58,400.00 L339.14,399.35 L340.69,398.70 L342.25,398.06 L343.81,397.41 L345.37,396.76 L346.93,396.11 L348.48,395.46 L350.04,394.81 L351.60,394.16 L353.16,393.51 L354.71,392.86 L356.27,392.21 L357.83,391.56 L359.38,390.92 L360.94,390.27 L362.50,389.62" stroke="#ff0000"/>
<path d="M51.00,500.63 L52.56,500.62 L54.12,500.59 L55.67,500.55 L57.23,500.48 L58.79,500.40 L60.34,500.30 L61.90,500.18 L63.46,500.04 L65.02,499.89 L66.58,499.71 L68.13,499.53 L69.69,499.32 L71.25,499.10 L72.81,498.86 L74.36,498.61 L75.92,498.34 L77.48,498.06 L79.03,497.76 L80.59,497.45 L82.15,497.12 L83.71,496.79 L85.27,496.44 L86.82,496.07 L88.38,495.70 L89.94,495.31 L91.50,494.92 L93.05,494.51 L94.61,494.10 L96.17,493.67 L97.72,493.23 L99.28,492.79 L100.84,492.34 L102.40,491.87 L103.96,491.41 L105.51,490.93 L107.07,490.45 L108.63,489.96 L110.19,489.46 L111.74,488.96 L113.30,488.45 L114.86,487.93 L116.42,487.41 L117.97,486.89 L119.53,486.36 L121.09,485.83 L122.65,485.29 L124.20,484.74 L125.76,484.20 L127.32,483.65 L128.88,483.09 L130.43,482.53 L131.99,481.97 L133.55,481.41 L135.11,480.84 L136.66,480.27 L138.22,479.70 L139.78,479.12 L141.34,478.54 L142.89,477.96 L144.45,477.38 L146.01,476.79 L147.56,476.21 L149.12,475.62 L150.68,475.02 L152.24,474.43 L153.80,473.84 L155.35,473.24 L156.91,472.64 L158.47,472.04 L160.02,471.44 L161.58,470.84 L163.14,470.23 L164.70,469.63 L166.25,469.02 L167.81,468.41 L169.37,467.80 L170.93,467.19 L172.49,466.58 L174.04,465.97 L175.60,465.35 L177.16,464.74 L178.72,464.12 L180.27,463.51 L181.83,462.89 L183.39,462.27 L184.94,461.65 L186.50,461.03 L188.06,460.41 L189.62,459.79 L191.17,459.17 L192.73,458.55 L194.29,457.93 L195.85,457.30 L197.41,456.68 L198.96,456.05 L200.52,455.43 L202.08,454.80 L203.63,454.17 L205.19,453.55 L206.75,452.92 L208.31,452.29 L209.87,451.66 L211.42,451.03 L212.98,450.40 L214.54,449.77 L216.10,449.14 L217.65,448.51 L219.21,447.88 L220.77,447.25 L222.32,446.62 L223.88,445.99 L225.44,445.35 L227.00,444.72 L228.56,444.09 L230.11,443.45 L231.67,442.82 L233.23,442.19 L234.78,441.55 L236.34,440.92 L237.90,440.28 L239.46,439.65 L241.02,439.01 L242.57,438.37 L244.13,437.74 L245.69,437.10 L247.25,436.46 L248.80,435.83 L250.36,435.19 L251.92,434.55 L253.47,433.91 L255.03,433.28 L256.59,432.64 L258.15,432.00 L259.70,431.36 L261.26,430.72 L262.82,430.08 L264.38,429.45 L265.94,428.81 L267.49,428.17 L269.05,427.53 L270.61,426.89 L272.17,426.25 L273.72,425.61 L275.28,424.97 L276.84,424.33 L278.39,423.69 L279.95,423.05 L281.51,422.40 L283.07,421.76 L284.62,421.12 L286.18,420.48 L287.74,419.84 L289.30,419.20 L290.86,418.56 L292.41,417.91 L293.97,417.27 L295.53,416.63 L297.09,415.99 L298.64,415.35 L300.20,414.70 L301.76,414.06 L303.31,413.42 L304.87,412.78 L306.43,412.13 L307.99,411.49 L309.55,410.85 L311.10,410.20 L312.66,409.56 L314.22,408.92 L315.77,408.27 L317.33,407.63 L318.89,406.99 L320.45,406.34 L322.00,405.70 L323.56,405.06 L325.12,404.41 L326.68,403.77 L328.24,403.12 L329.79,402.48 L331.35,401.84 L332.91,401.19 L334.46,400.55 L336.02,399.90 L337.58,399.26 L339.14,398.61 L340.69,397.97 L342.25,397.32 L343.81,396.68 L345.37,396.03 L346.93,395.39 L348.48,394.74 L350.04,394.10 L351.60,393.45 L353.16,392.81 L354.71,392.16 L356.27,391.52 L357.83,390.87 L359.38,390.23 L360.94,389.58 L362.50,388.94" stroke="#0000ff"/>
<path d="M51.00,494.12 L52.56,494.11 L54.12,494.09 L55.67,494.05 L57.23,494.00 L58.79,493.94 L60.34,493.86 L61.90,493.77 L63.46,493.66 L65.02,493.54 L66.58,493.40 L68.13,493.26 L69.69,493.09 L71.25,492.92 L72.81,492.73 L74.36,492.53 L75.92,492.31 L77.48,492.09 L79.03,491.85 L80.59,491.60 L82.15,491.34 L83.71,491.06 L85.27,490.78 L86.82,490.48 L88.38,490.17 L89.94,489.86 L91.50,489.53 L93.05,489.19 L94.61,488.85 L96.17,488.49 L97.72,488.12 L99.28,487.75 L100.84,487.37 L102.40,486.98 L103.96,486.58 L105.51,486.17 L107.07,485.75 L108.63,485.33 L110.19,484.90 L111.74,484.47 L113.30,484.02 L114.86,483.58 L116.42,483.12 L117.97,482.66 L119.53,482.19 L121.09,481.72 L122.65,481.24 L124.20,480.76 L125.76,480.27 L127.32,479.78 L128.88,479.28 L130.43,478.78 L131.99,478.27 L133.55,477.76 L135.11,477.24 L136.66,476.72 L138.22,476.20 L139.78,475.67 L141.34,475.14 L142.89,474.61 L144.45,474.07 L146.01,473.53 L147.56,472.99 L149.12,472.44 L150.68,471.90 L152.24,471.34 L153.80,470.79 L155.35,470.23 L156.91,469.67 L158.47,469.11 L160.02,468.55 L161.58,467.98 L163.14,467.41 L164.70,466.84 L166.25,466.27 L167.81,465.70 L169.37,465.12 L170.93,464.54 L172.49,463.96 L174.04,463.38 L175.60,462.80 L177.16,462.21 L178.72,461.63 L180.27,461.04 L181.83,460.45 L183.39,459.86 L184.94,459.27 L186.50,458.68 L188.06,458.08 L189.62,457.49 L191.17,456.89 L192.73,456.29 L194.29,455.69 L195.85,455.09 L197.41,454.49 L198.96,453.89 L200.52,453.28 L202.08,452.68 L203.63,452.08 L205.19,451.47 L206.75,450.86 L208.31,450.25 L209.87,449.65 L211.42,449.04 L212.98,448.43 L214.54,447.81 L216.10,447.20 L217.65,446.59 L219.21,445.98 L220.77,445.36 L222.32,444.75 L223.88,444.13 L225.44,443.52 L227.00,442.90 L228.56,442.28 L230.11,441.66 L231.67,441.05 L233.23,440.43 L234.78,439.81 L236.34,439.19 L237.90,438.57 L239.46,437.95 L241.02,437.32 L242.57,436.70 L244.13,436.08 L245.69,435.46 L247.25,434.83 L248.80,434.21 L250.36,433.58 L251.92,432.96 L253.47,432.33 L255.03,431.71 L256.59,431.08 L258.15,430.46 L259.70,429.83 L261.26,429.20 L262.82,428.58 L264.38,427.95 L265.94,427.32 L267.49,426.69 L269.05,426.06 L270.61,425.43 L272.17,424.80 L273.72,424.17 L275.28,423.54 L276.84,422.91 L278.39,422.28 L279.95,421.65 L281.51,421.02 L283.07,420.39 L284.62,419.76 L286.18,419.13 L287.74,418.49 L289.30,417.86 L290.86,417.23 L292.41,416.59 L293.97,415.96 L295.53,415.33 L297.09,414.69 L298.64,414.06 L300.20,413.43 L301.76,412.79 L303.31,412.16 L304.87,411.52 L306.43,410.89 L307.99,410.25 L309.55,409.62 L311.10,408.98 L312.66,408.35 L314.22,407.71 L315.77,407.07 L317.33,406.44 L318.89,405.80 L320.45,405.16 L322.00,404.53 L323.56,403.89 L325.12,403.25 L326.68,402.62 L328.24,401.98 L329.79,401.34 L331.35,400.70 L332.91,400.07 L334.46,399.43 L336.02,398.79 L337.58,398.15 L339.14,397.51 L340.69,396.87 L342.25,396.23 L343.81,395.60 L345.37,394.96 L346.93,394.32 L348.48,393.68 L350.04,393.04 L351.60,392.40 L353.16,391.76 L354.71,391.12 L356.27,390.48 L357.83,389.84 L359.38,389.20 L360.94,388.56 L362.50,387.92" stroke="#00994d"/>
</g>
<g stroke="#000" stroke-width="0.70" fill="none">
<rect x="51.00" y="2.95" width="311.50" height="127.55"/>
<rect x="51.00" y="130.50" width="311.50" height="127.90"/>
<rect x="51.00" y="258.40" width="311.50" height="127.55"/>
<rect x="51.00" y="385.95" width="311.50" height="127.55"/>
</g>
<g font-family="'Liberation Serif', serif" font-size="12.5px" fill="#000">
<text x="48.2" y="25.20" text-anchor="end">0</text>
<text x="48.2" y="49.40" text-anchor="end">-20</text>
<text x="48.2" y="73.60" text-anchor="end">-40</text>
<text x="48.2" y="97.80" text-anchor="end">-60</text>
<text x="48.2" y="122.00" text-anchor="end">-80</text>
<text x="48.2" y="262.40" text-anchor="end">0.0</text>
<text x="48.2" y="236.60" text-anchor="end">0.2</text>
<text x="48.2" y="210.80" text-anchor="end">0.4</text>
<text x="48.2" y="185.00" text-anchor="end">0.6</text>
<text x="48.2" y="159.20" text-anchor="end">0.8</text>
<text x="48.2" y="390.05" text-anchor="end">0.0</text>
<text x="48.2" y="364.25" text-anchor="end">0.2</text>
<text x="48.2" y="338.45" text-anchor="end">0.4</text>
<text x="48.2" y="312.65" text-anchor="end">0.6</text>
<text x="48.2" y="286.85" text-anchor="end">0.8</text>
<text x="48.2" y="517.75" text-anchor="end">0</text>
<text x="48.2" y="491.71" text-anchor="end">2</text>
<text x="48.2" y="465.67" text-anchor="end">4</text>
<text x="48.2" y="439.63" text-anchor="end">6</text>
<text x="48.2" y="413.59" text-anchor="end">8</text>
<text x="51.00" y="528" text-anchor="middle">0</text>
<text x="82.15" y="528" text-anchor="middle">1</text>
<text x="113.30" y="528" text-anchor="middle">2</text>
<text x="144.45" y="528" text-anchor="middle">3</text>
<text x="175.60" y="528" text-anchor="middle">4</text>
<text x="206.75" y="528" text-anchor="middle">5</text>
<text x="237.90" y="528" text-anchor="middle">6</text>
<text x="269.05" y="528" text-anchor="middle">7</text>
<text x="300.20" y="528" text-anchor="middle">8</text>
<text x="331.35" y="528" text-anchor="middle">9</text>
<text x="362.50" y="528" text-anchor="middle">10</text>
</g>
<g font-family="'Liberation Serif', serif" font-size="14px">
<text x="138.3" y="78.0" fill="#000">|<tspan font-style="italic">m</tspan>| = 0</text>
<text x="196.6" y="83.0" text-anchor="middle" fill="#ff0000">1</text>
<text x="219.8" y="87.0" text-anchor="middle" fill="#0000ff">2</text>
<text x="241.0" y="92.0" text-anchor="middle" fill="#00994d">3</text>
<line x1="176.80" y1="66.90" x2="189.53" y2="51.67" stroke="#000" stroke-width="0.85"/>
<polygon points="192.10,48.60 190.12,53.46 187.67,51.41" fill="#000"/>
<line x1="200.20" y1="72.60" x2="213.84" y2="57.29" stroke="#000" stroke-width="0.85"/>
<polygon points="216.50,54.30 214.37,59.10 211.98,56.97" fill="#000"/>
<line x1="223.80" y1="75.80" x2="236.29" y2="61.33" stroke="#000" stroke-width="0.85"/>
<polygon points="238.90,58.30 236.84,63.13 234.42,61.04" fill="#000"/>
<line x1="244.20" y1="80.70" x2="256.85" y2="64.36" stroke="#000" stroke-width="0.85"/>
<polygon points="259.30,61.20 257.50,66.13 254.97,64.17" fill="#000"/>
<rect x="86.50" y="171.90" width="7.60" height="10.6" fill="#fff"/>
<text x="90.30" y="181.60" text-anchor="middle" fill="#000000">0</text>
<rect x="121.10" y="172.00" width="6.00" height="10.6" fill="#fff"/>
<text x="124.10" y="181.70" text-anchor="middle" fill="#ff0000">1</text>
<rect x="152.70" y="171.50" width="7.60" height="10.6" fill="#fff"/>
<text x="156.50" y="181.20" text-anchor="middle" fill="#0000ff">2</text>
<rect x="190.80" y="169.70" width="7.60" height="10.6" fill="#fff"/>
<text x="194.60" y="179.40" text-anchor="middle" fill="#00994d">3</text>
<rect x="95.10" y="307.60" width="7.60" height="10.6" fill="#fff"/>
<text x="98.90" y="317.30" text-anchor="middle" fill="#000000">0</text>
<rect x="150.10" y="307.20" width="6.00" height="10.6" fill="#fff"/>
<text x="153.10" y="316.90" text-anchor="middle" fill="#ff0000">1</text>
<rect x="208.60" y="306.10" width="7.60" height="10.6" fill="#fff"/>
<text x="212.40" y="315.80" text-anchor="middle" fill="#0000ff">2</text>
<rect x="270.40" y="304.20" width="7.60" height="10.6" fill="#fff"/>
<text x="274.20" y="313.90" text-anchor="middle" fill="#00994d">3</text>
<text x="64.4" y="479.2" text-anchor="middle" fill="#000000">0</text>
<text x="76.5" y="474.7" text-anchor="middle" fill="#ff0000">1</text>
<text x="91.0" y="468.7" text-anchor="middle" fill="#0000ff">2</text>
<text x="104.3" y="464.6" text-anchor="middle" fill="#00994d">3</text>
<line x1="64.25" y1="481.50" x2="58.00" y2="508.40" stroke="#000" stroke-width="0.85"/>
<polygon points="57.10,512.30 56.67,507.07 59.79,507.79" fill="#000"/>
<line x1="76.70" y1="477.10" x2="70.93" y2="499.92" stroke="#000" stroke-width="0.85"/>
<polygon points="69.95,503.80 69.62,498.56 72.73,499.34" fill="#000"/>
<line x1="90.10" y1="471.40" x2="85.61" y2="490.61" stroke="#000" stroke-width="0.85"/>
<polygon points="84.70,494.50 84.28,489.27 87.40,490.00" fill="#000"/>
<line x1="103.40" y1="466.70" x2="99.40" y2="483.01" stroke="#000" stroke-width="0.85"/>
<polygon points="98.45,486.90 98.09,481.66 101.19,482.42" fill="#000"/>
</g>
<g transform="translate(24.2,78.9) rotate(-90)"><text x="0" y="0" font-size="20px" font-style="italic">E<tspan font-size="12.5px" font-style="normal" dy="4" dx="1.5">0</tspan></text></g>
<g transform="translate(22.0,214.4) rotate(-90)" font-style="italic"><text x="0" y="0" font-size="18px">μ</text><text x="9.9" y="2.4" font-size="11.5px">z</text><text x="20.4" y="1.4" font-size="20.5px">/</text><text x="26.6" y="0" font-size="17.5px" font-weight="bold">μ</text></g>
<g transform="translate(23.3,353.6) rotate(-90)" font-size="14.5px" style="font-family:'Liberation Sans',sans-serif"><text x="-0.35" y="0.6" style="font-family:'Liberation Sans',sans-serif">&lt;</text><text transform="translate(8.1,0) scale(0.88,1)" style="font-family:'Liberation Sans',sans-serif">c</text><text transform="translate(15.55,0) scale(0.88,1)" style="font-family:'Liberation Sans',sans-serif">o</text><text transform="translate(24.6,0) scale(0.88,1)" style="font-family:'Liberation Sans',sans-serif">s</text><text transform="translate(32.7,-4.5) scale(0.85,1)" font-size="10.5px" style="font-family:'Liberation Sans',sans-serif">2</text><text x="38.8" y="0.2" font-size="17px" font-style="italic" style="font-family:'Liberation Serif',serif">θ</text><text x="47.2" y="1.3" style="font-family:'Liberation Sans',sans-serif">&gt;</text></g>
<g transform="translate(23.4,471.8) rotate(-90)"><text x="-0.7" y="0.8" font-size="20px">&lt;</text><text x="10.0" y="0.2" font-size="17.5px" font-weight="bold">J</text><text x="20.45" y="-7.9" font-size="10px">2</text><text x="25.0" y="0.8" font-size="20px">&gt;</text></g>
<text x="213.2" y="546.0" text-anchor="middle" font-size="17.5px" font-style="italic">β</text>
</svg>
</body></html>
